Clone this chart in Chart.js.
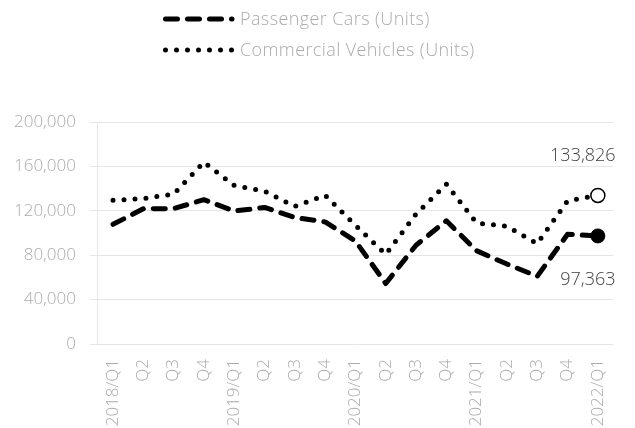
<!DOCTYPE html>
<html>
<head>
<meta charset="utf-8">
<script src="https://cdn.jsdelivr.net/npm/chart.js@4/dist/chart.umd.min.js"></script>
<style>
html,body{margin:0;padding:0;background:#fff}
#wrap{width:635px;height:428px;position:relative}
</style>
</head>
<body>
<div id="wrap"><canvas id="c" width="635" height="428"></canvas></div>
<script>
const quarterLabels = ['2018/Q1','Q2','Q3','Q4','2019/Q1','Q2','Q3','Q4','2020/Q1','Q2','Q3','Q4','2021/Q1','Q2','Q3','Q4','2022/Q1'];
const passengerCars = [107800,121800,122000,130000,119800,123000,114000,110000,92800,54500,89000,111000,84000,72000,61000,98800,97363];
const commercialVehicles = [129400,131000,135000,163800,142800,137700,124000,134000,107000,80800,117000,144000,109000,106000,90400,129000,133826];
const seriesNames = ['Passenger Cars (Units)','Commercial Vehicles (Units)'];
const yMin = 0, yMax = 200000, yStep = 40000;

const FONT = '"Open Sans", sans-serif';
const TICK_COLOR = '#ababab';
const GRID_COLOR = '#e6e6e6';
const LABEL_COLOR = '#404040';
const DASH_PC = [12, 10];
const DASH_CV = [0, 11];
const last = quarterLabels.length - 1;
const fmt = v => Number(v).toLocaleString('en-US');

const overlay = {
  id: 'overlay',
  afterDatasetsDraw(chart) {
    const ctx = chart.ctx;
    ctx.save();
    const legendItems = [
      {y: 19, dash: DASH_PC, text: seriesNames[0]},
      {y: 50, dash: DASH_CV, text: seriesNames[1]}
    ];
    legendItems.forEach(it => {
      ctx.beginPath();
      ctx.setLineDash(it.dash);
      ctx.lineCap = 'round';
      ctx.lineWidth = 5;
      ctx.strokeStyle = '#000';
      ctx.moveTo(165.5, it.y);
      ctx.lineTo(232, it.y);
      ctx.stroke();
      ctx.setLineDash([]);
      ctx.fillStyle = TICK_COLOR;
      ctx.font = '300 18px ' + FONT;
      if ('letterSpacing' in ctx) ctx.letterSpacing = '0.4px';
      ctx.textAlign = 'left';
      ctx.textBaseline = 'middle';
      ctx.fillText(it.text, 240, it.y + 1);
    });
    if ('letterSpacing' in ctx) ctx.letterSpacing = '0px';
    const pc = chart.getDatasetMeta(0).data[last];
    const cv = chart.getDatasetMeta(1).data[last];
    ctx.fillStyle = LABEL_COLOR;
    ctx.font = '300 18px ' + FONT;
    ctx.textAlign = 'center';
    ctx.textBaseline = 'middle';
    ctx.fillText(fmt(commercialVehicles[last]), cv.x - 15, cv.y - 40);
    ctx.fillText(fmt(passengerCars[last]), pc.x - 10, pc.y + 44);
    ctx.restore();
  }
};

new Chart(document.getElementById('c'), {
  type: 'line',
  data: {
    labels: quarterLabels,
    datasets: [
      {
        label: seriesNames[0],
        data: passengerCars,
        borderColor: '#000',
        borderWidth: 5,
        borderDash: DASH_PC,
        borderCapStyle: 'round',
        borderJoinStyle: 'round',
        tension: 0,
        pointRadius: c => c.dataIndex === last ? 7 : 0,
        pointHoverRadius: 0,
        pointBackgroundColor: '#000',
        pointBorderColor: '#000',
        pointBorderWidth: 1
      },
      {
        label: seriesNames[1],
        data: commercialVehicles,
        borderColor: '#000',
        borderWidth: 5,
        borderDash: DASH_CV,
        borderCapStyle: 'round',
        borderJoinStyle: 'round',
        tension: 0,
        pointRadius: c => c.dataIndex === last ? 7 : 0,
        pointHoverRadius: 0,
        pointBackgroundColor: '#fff',
        pointBorderColor: '#000',
        pointBorderWidth: 1.5
      }
    ]
  },
  options: {
    responsive: false,
    animation: false,
    events: [],
    layout: {padding: {top: 122, left: 0, right: 22, bottom: 0}},
    plugins: {legend: {display: false}, tooltip: {enabled: false}},
    scales: {
      x: {
        offset: true,
        grid: {display: false, drawTicks: false},
        border: {display: false},
        afterFit: s => { s.height = 84; },
        ticks: {
          color: TICK_COLOR,
          font: {family: FONT, size: 17, weight: '300'},
          minRotation: 90,
          maxRotation: 90,
          autoSkip: false,
          padding: 15
        }
      },
      y: {
        min: yMin,
        max: yMax,
        ticks: {
          stepSize: yStep,
          color: TICK_COLOR,
          font: {family: FONT, size: 17, weight: '300'},
          padding: 14,
          callback: v => fmt(v)
        },
        grid: {color: GRID_COLOR, lineWidth: 1, tickLength: 8, drawTicks: true},
        border: {display: true, color: GRID_COLOR}
      }
    }
  },
  plugins: [overlay]
});
</script>
</body>
</html>
